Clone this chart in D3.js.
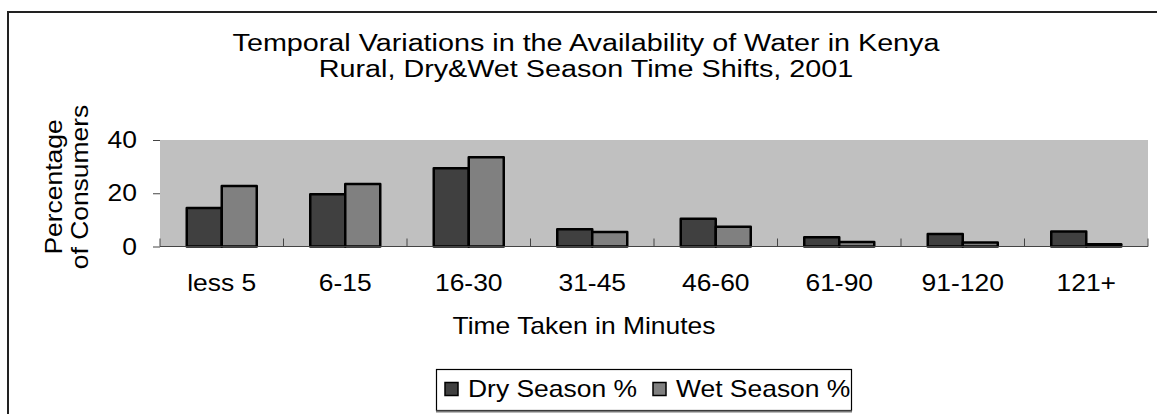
<!DOCTYPE html>
<html lang="en">
<head>
  <meta charset="UTF-8">
  <title>Temporal Variations in the Availability of Water in Kenya</title>
  <script src="https://d3js.org/d3.v7.min.js"></script>
  <style>
    body { margin: 0; background: #fff; }
    svg { display: block; font-family: "Liberation Sans", Arial, sans-serif; }
    text { fill: #000; }
  </style>
</head>
<body>
<svg width="1157" height="414"></svg>
<script>
const categories = ["less 5", "6-15", "16-30", "31-45", "46-60", "61-90", "91-120", "121+"];
const drySeason = [14.5, 19.6, 29.4, 6.5, 10.4, 3.5, 4.7, 5.6];
const wetSeason = [22.7, 23.5, 33.5, 5.4, 7.4, 1.7, 1.5, 0.8];
const yTicks = [0, 20, 40];
const seriesNames = ["Dry Season %", "Wet Season %"];
const seriesColors = ["#404040", "#808080"];

const svg = d3.select("svg");
const fs = 23;   // glyph height of the reference
const wide = 1.15; // the reference's glyphs are drawn wider than Arial

// text drawn a little wider, as in the reference
function label(parent, x, y, str, anchor = "middle", sx = wide, rot = 0) {
  return parent.append("g")
    .attr("transform", `translate(${x},${y}) rotate(${rot}) scale(${sx},1)`)
    .append("text")
    .attr("text-anchor", anchor)
    .attr("font-size", fs)
    .text(str);
}

// outer chart border (runs off the picture right and bottom)
svg.append("rect")
  .attr("x", 8).attr("y", 12)
  .attr("width", 1160).attr("height", 420)
  .attr("fill", "none").attr("stroke", "#222").attr("stroke-width", 2);

const plot = { left: 160, right: 1148, top: 140, bottom: 246.5 };

const x = d3.scaleBand().domain(categories).range([plot.left, plot.right]);
const y = d3.scaleLinear().domain([0, 40]).range([plot.bottom, plot.top]);
const barW = 35;

// plot background
svg.append("rect")
  .attr("x", plot.left).attr("y", plot.top)
  .attr("width", plot.right - plot.left).attr("height", plot.bottom - plot.top)
  .attr("fill", "#c0c0c0");

// title
label(svg, 586, 51, "Temporal Variations in the Availability of Water in Kenya", "middle", 1.25);
label(svg, 586, 77, "Rural, Dry&Wet Season Time Shifts, 2001", "middle", 1.25);

// y axis ticks
const yAxis = svg.append("g")
  .attr("transform", `translate(${plot.left},0)`)
  .call(d3.axisLeft(y).tickValues(yTicks).tickSize(7).tickFormat(""));
yAxis.select(".domain").remove();
yAxis.selectAll(".tick line").attr("stroke", "#444");
yTicks.forEach(t => label(svg, 137, y(t) + 8, String(t), "end"));

// y title
label(svg, 62, 187, "Percentage", "middle", wide, -90);
label(svg, 88, 187, "of Consumers", "middle", wide, -90);

// bars
const groups = svg.append("g").selectAll("g")
  .data(categories)
  .join("g")
  .attr("transform", d => `translate(${x(d) + x.bandwidth() / 2},0)`);

[drySeason, wetSeason].forEach((vals, s) => {
  groups.append("rect")
    .attr("x", s === 0 ? -barW : 0)
    .attr("y", (d, i) => y(vals[i]))
    .attr("width", barW)
    .attr("height", (d, i) => y(0) - y(vals[i]))
    .attr("fill", seriesColors[s])
    .attr("stroke", "#000")
    .attr("stroke-width", 2.5)
    .attr("stroke-linejoin", "round");
});

// x axis line with inward ticks at category boundaries
svg.append("line")
  .attr("x1", plot.left).attr("x2", plot.right)
  .attr("y1", plot.bottom).attr("y2", plot.bottom)
  .attr("stroke", "#444").attr("stroke-width", 1);
const bounds = [plot.left].concat(categories.map(d => x(d) + x.bandwidth()));
svg.append("g").selectAll("line")
  .data(bounds)
  .join("line")
  .attr("x1", d => d)
  .attr("x2", d => d)
  .attr("y1", plot.bottom).attr("y2", plot.bottom - 8)
  .attr("stroke", "#444");

// x labels
const xl = svg.append("g");
categories.forEach(c => label(xl, x(c) + x.bandwidth() / 2, 291, c));

label(svg, 584, 334, "Time Taken in Minutes");

// legend
const lg = svg.append("g");
lg.append("rect").attr("x", 436.5).attr("y", 369.5).attr("width", 415).attr("height", 41)
  .attr("fill", "#fff").attr("stroke", "#000").attr("stroke-width", 1.2);
lg.append("line").attr("x1", 436).attr("x2", 852).attr("y1", 411.5).attr("y2", 411.5)
  .attr("stroke", "#777").attr("stroke-width", 2);
const legendX = [445, 653];
seriesNames.forEach((name, i) => {
  lg.append("rect").attr("x", legendX[i]).attr("y", 382.5).attr("width", 13).attr("height", 13)
    .attr("fill", seriesColors[i]).attr("stroke", "#000").attr("stroke-width", 1.5);
  label(lg, legendX[i] + 23, 397, name, "start");
});
</script>
</body>
</html>
